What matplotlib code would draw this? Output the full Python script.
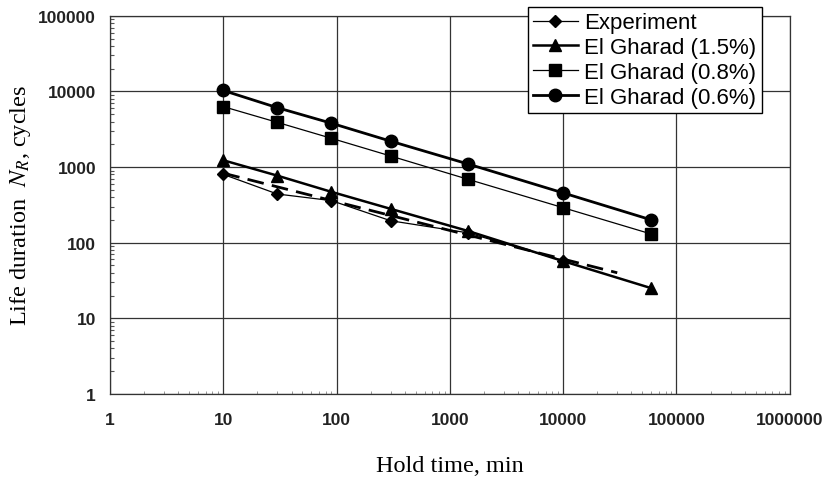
import matplotlib
matplotlib.use("Agg")
import matplotlib.pyplot as plt
from matplotlib.ticker import LogLocator, FixedLocator, NullFormatter

# hold time, min
hold_time = [10, 30, 90, 300, 1440, 10000, 60000]

experiment = [800, 440, 360, 195, 135, 58]
gharad_15 = [1230, 770, 470, 280, 143, 57, 25]
gharad_08 = [6300, 3900, 2400, 1400, 690, 290, 130]
gharad_06 = [10300, 6100, 3800, 2200, 1100, 455, 200]

# dashed trend through the experimental points
trend_x = [10, 30000]
trend_y = [830, 40]

plt.rcParams['mathtext.fontset'] = 'stix'

fig = plt.figure(figsize=(8.27, 4.81), dpi=100)
ax = fig.add_axes([0.133, 0.179, 0.822, 0.786])

ax.plot(hold_time[:len(experiment)], experiment, color='black', lw=0.9,
        marker='D', ms=6.5, label='Experiment', zorder=4)
ax.plot(trend_x, trend_y, color='black', lw=2.0, ls=(0, (6, 3)), zorder=3)
ax.plot(hold_time, gharad_15, color='black', lw=1.8, marker='^', ms=8.5,
        label='El Gharad (1.5%)', zorder=4)
ax.plot(hold_time, gharad_08, color='black', lw=0.9, marker='s', ms=8,
        label='El Gharad (0.8%)', zorder=4)
ax.plot(hold_time, gharad_06, color='black', lw=2.0, marker='o', ms=9,
        label='El Gharad (0.6%)', zorder=4)

ax.set_xscale('log')
ax.set_yscale('log')
ax.set_xlim(1, 1e6)
ax.set_ylim(1, 1e5)

ax.xaxis.set_major_locator(FixedLocator([10 ** i for i in range(7)]))
ax.yaxis.set_major_locator(FixedLocator([10 ** i for i in range(6)]))
ax.set_xticklabels([str(10 ** i) for i in range(7)])
ax.set_yticklabels([str(10 ** i) for i in range(6)])
ax.xaxis.set_minor_locator(LogLocator(base=10, subs=range(2, 10), numticks=20))
ax.yaxis.set_minor_locator(LogLocator(base=10, subs=range(2, 10), numticks=20))
ax.xaxis.set_minor_formatter(NullFormatter())
ax.yaxis.set_minor_formatter(NullFormatter())

ax.grid(True, which='major', color='#333333', lw=0.9)
for s in ax.spines.values():
    s.set_color('#333333')
    s.set_linewidth(0.9)

ax.tick_params(which='major', length=0, pad=13)
ax.tick_params(axis='y', which='major', pad=10)
ax.tick_params(axis='x', which='minor', direction='in', length=2.5,
               color='#888888', width=0.6)
ax.tick_params(axis='y', which='minor', direction='in', length=3,
               color='#555555', width=0.8)
for lab in ax.get_xticklabels() + ax.get_yticklabels():
    lab.set_fontfamily('Liberation Sans')
    lab.set_fontweight('bold')
    lab.set_fontsize(12.5)
    lab.set_color('#222222')

ax.set_xlabel('Hold time, min', family='Liberation Serif', fontsize=17.5,
              labelpad=20)
ax.set_ylabel(r'Life duration  $N_R$, cycles', family='Liberation Serif',
              fontsize=17.5, labelpad=4)

leg = ax.legend(loc='upper right', bbox_to_anchor=(0.959, 1.024),
                prop={'family': 'Liberation Sans', 'size': 16},
                frameon=True, fancybox=False, edgecolor='black',
                framealpha=1, handlelength=2.0, handletextpad=0.3,
                borderpad=0.25, labelspacing=0.17, borderaxespad=0)
leg.get_frame().set_linewidth(1.0)
leg.set_zorder(10)

fig.savefig('out.png', dpi=100)
